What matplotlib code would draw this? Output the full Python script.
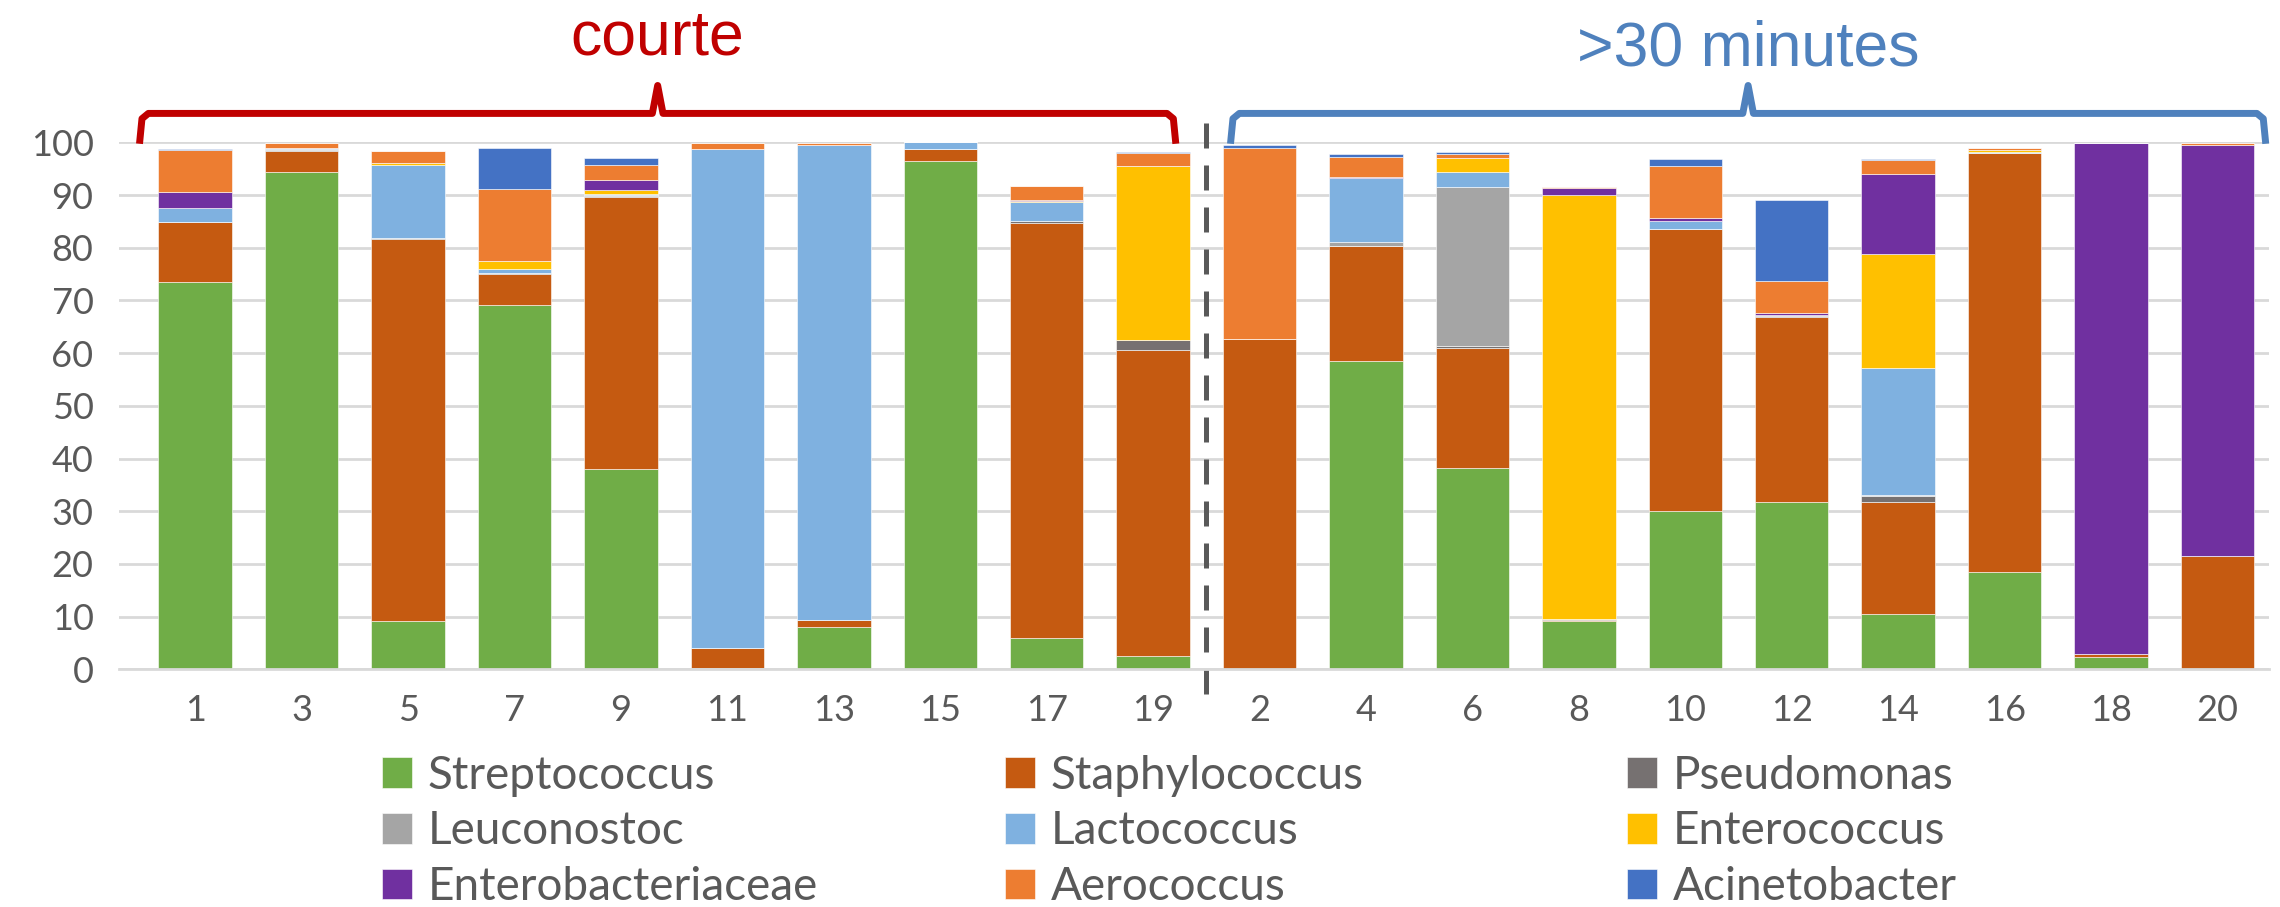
import numpy as np
import matplotlib.pyplot as plt

plt.rcParams['font.family'] = ['Lato', 'DejaVu Sans']

# sample labels, short group first then >30 minutes group
samples = ['1', '3', '5', '7', '9', '11', '13', '15', '17', '19',
           '2', '4', '6', '8', '10', '12', '14', '16', '18', '20']

genera = ['Streptococcus', 'Staphylococcus', 'Pseudomonas', 'Leuconostoc', 'Lactococcus',
          'Enterococcus', 'Enterobacteriaceae', 'Aerococcus', 'Acinetobacter']
colors = ['#70AD47', '#C55A11', '#767171', '#A5A5A5', '#7FB1E0',
          '#FFC000', '#7030A0', '#ED7D31', '#4472C4']

# relative abundance (%) per sample
streptococcus = [73.6, 94.3, 9.2, 69.2, 38.1, 0.2, 8.1, 96.4, 6.0, 2.5,
                 0.0, 58.5, 38.3, 9.1, 30.0, 31.7, 10.6, 18.5, 2.3, 0.0]
staphylococcus = [11.2, 4.0, 72.5, 5.8, 51.6, 3.9, 1.3, 2.3, 78.7, 58.1,
                  62.6, 21.8, 22.7, 0.3, 53.5, 35.2, 21.1, 79.4, 0.7, 21.6]
pseudomonas = [0.1, 0.3, 0.1, 0.3, 0.2, 0.0, 0.0, 0.0, 0.3, 1.9,
               0.0, 0.0, 0.3, 0.2, 0.0, 0.2, 1.2, 0.0, 0.0, 0.0]
leuconostoc = [0.0, 0.1, 0.0, 0.0, 0.1, 0.0, 0.0, 0.0, 0.0, 0.0,
               0.0, 0.8, 30.3, 0.0, 0.0, 0.2, 0.2, 0.0, 0.0, 0.0]
lactococcus = [2.7, 0.2, 14.0, 0.7, 0.2, 94.7, 90.2, 1.3, 3.6, 0.0,
               0.0, 12.1, 2.8, 0.0, 1.5, 0.0, 24.1, 0.3, 0.0, 0.0]
enterococcus = [0.0, 0.0, 0.2, 1.5, 0.7, 0.0, 0.0, 0.0, 0.3, 33.1,
                0.0, 0.0, 2.6, 80.4, 0.0, 0.0, 21.7, 0.3, 0.0, 0.0]
enterobacteriaceae = [2.9, 0.0, 0.0, 0.0, 1.9, 0.0, 0.0, 0.0, 0.2, 0.0,
                      0.0, 0.2, 0.0, 1.4, 0.7, 0.3, 15.1, 0.0, 96.8, 78.0]
aerococcus = [8.1, 1.0, 2.4, 13.6, 3.0, 1.0, 0.2, 0.0, 2.6, 2.4,
              36.4, 3.9, 0.8, 0.2, 9.9, 6.1, 2.6, 0.5, 0.0, 0.2]
acinetobacter = [0.2, 0.0, 0.0, 7.9, 1.3, 0.0, 0.0, 0.0, 0.0, 0.1,
                 0.6, 0.5, 0.3, 0.0, 1.3, 15.4, 0.2, 0.0, 0.0, 0.0]

series = [streptococcus, staphylococcus, pseudomonas, leuconostoc, lactococcus,
          enterococcus, enterobacteriaceae, aerococcus, acinetobacter]

group_labels = ['courte', '>30 minutes']
group_colors = ['#C00000', '#4F81BD']
n_short = 10

fig = plt.figure(figsize=(22.8, 9.07), dpi=100)
ax = fig.add_axes([0.052, 0.262, 0.943, 0.581])

x = np.arange(len(samples))
bottom = np.zeros(len(samples))
bars = []
for vals, name, c in zip(series, genera, colors):
    b = ax.bar(x, vals, 0.69, bottom=bottom, color=c, label=name,
               edgecolor='white', linewidth=0.4)
    bars.append(b)
    bottom += np.array(vals)

ax.set_ylim(0, 100)
ax.set_xlim(-0.72, 19.48)
ax.set_yticks(np.arange(0, 101, 10))
ax.set_xticks(x)
ax.set_xticklabels(samples)
ax.yaxis.grid(True, color='#D9D9D9', linewidth=2)
ax.set_axisbelow(True)
for s in ['top', 'right', 'left']:
    ax.spines[s].set_visible(False)
ax.spines['bottom'].set_color('#D9D9D9')
ax.spines['bottom'].set_linewidth(2)
ax.tick_params(axis='both', length=0, labelsize=26, colors='#595959')
ax.tick_params(axis='y', pad=18)
ax.tick_params(axis='x', pad=18)

# dashed separator between the two groups
sep = n_short - 0.5
ax.plot([sep, sep], [-4.6, 103.6], color='#595959', lw=3.6, ls=(0, (5, 3.4)),
        clip_on=False)

# curly brackets above each group
def bracket(x0, x1, color):
    xm = (x0 + x1) / 2
    ax.plot([x0, x0 + 0.02, x0 + 0.08, xm - 0.05, xm, xm + 0.05, x1 - 0.08, x1 - 0.02, x1],
            [100.4, 104.5, 105.5, 105.5, 110.8, 105.5, 105.5, 104.5, 100.4],
            color=color, lw=5, clip_on=False, solid_joinstyle='round')
    return xm

xm1 = bracket(-0.52, 9.21, group_colors[0])
xm2 = bracket(9.73, 19.45, group_colors[1])
ax.text(xm1, 119.8, group_labels[0], color=group_colors[0], fontsize=45,
        family='Liberation Sans', ha='center', va='center', clip_on=False)
ax.text(xm2, 117.8, group_labels[1], color=group_colors[1], fontsize=45,
        family='Liberation Sans', ha='center', va='center', clip_on=False)

# legend: three columns placed separately, read row-wise
col_x = [382 / 2280, 1005 / 2280, 1627 / 2280]
for k, cx in enumerate(col_x):
    idx = [k, k + 3, k + 6]
    leg = fig.legend([bars[i] for i in idx], [genera[i] for i in idx],
                     loc='upper left', bbox_to_anchor=(cx, 0.168),
                     frameon=False, fontsize=33, handlelength=0.66, handleheight=0.66,
                     handletextpad=0.33, labelspacing=0.3, borderpad=0,
                     borderaxespad=0)
    for t in leg.get_texts():
        t.set_color('#595959')

fig.savefig('out.png', dpi=100)
